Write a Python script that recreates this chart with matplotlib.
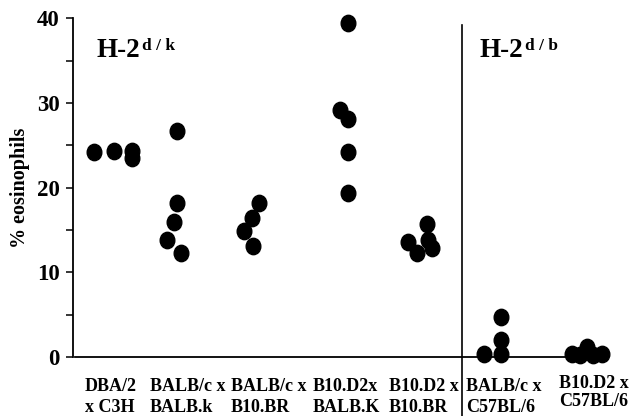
import numpy as np
import matplotlib
matplotlib.use('Agg')
import matplotlib.pyplot as plt
from matplotlib.path import Path

# group names (two-line labels under the axis)
groups = ['DBA/2\nx C3H', 'BALB/c x\nBALB.k', 'BALB/c x\nB10.BR',
          'B10.D2x\nBALB.K', 'B10.D2 x\nB10.BR', 'BALB/c x\nC57BL/6',
          'B10.D2 x\nC57BL/6']

# % eosinophils for each mouse, per group
dba_c3h = [24.2, 24.4, 24.4, 23.5]
balbc_balbk = [26.7, 18.2, 15.9, 13.8, 12.3]
balbc_b10br = [18.2, 16.4, 14.9, 13.1]
b10d2_balbk = [39.5, 29.2, 28.1, 24.2, 19.4]
b10d2_b10br = [15.7, 13.6, 12.3, 13.8, 12.9]
balbc_c57 = [4.7, 2.0, 0.35, 0.4]
b10d2_c57 = [0.4, 1.2, 0.4, 0.2, 0.2]
values = [dba_c3h, balbc_balbk, balbc_b10br, b10d2_balbk, b10d2_b10br, balbc_c57, b10d2_c57]

# horizontal scatter of the dots inside each group (as drawn in the figure)
jitter = [[-19, 1, 19, 19],
          [1, 1, -2, -9, 5],
          [7, 0, -8, 1],
          [1, -7, 1, 1, 1],
          [6, -13, -4, 7, 11],
          [6, 6, 6, -11],
          [-15, 0, 15, -7, 6]]

# layout (x in pixel-like units)
group_x = [113, 176, 252, 347, 421, 495, 587]
label_x = [85, 150, 231, 313, 389, 466, 559]
label_y = [-2.5, -2.5, -2.5, -2.5, -2.5, -2.5, -2.1]
label_sp = [1.32, 1.32, 1.32, 1.32, 1.32, 1.32, 1.1]
divider_x = 462

plt.rcParams['font.family'] = ['Liberation Serif', 'DejaVu Serif']
plt.rcParams['font.weight'] = 'bold'

fig = plt.figure(figsize=(6.29, 4.16), dpi=100)
ax = fig.add_axes([73 / 629, 59 / 416, 1 - 73 / 629, 338.5 / 416])

# slightly tall ellipse marker
circ = Path.unit_circle()
dot = Path(circ.vertices * np.array([1.0, 1.12]), circ.codes)

for gx, offs, vals in zip(group_x, jitter, values):
    xs = [gx + o for o in offs]
    ax.plot(xs, vals, linestyle='none', marker=dot, markersize=11.8,
            color='black', clip_on=False, zorder=3)

ax.set_xlim(73, 629)
ax.set_ylim(0, 40)

for s in ['top', 'right']:
    ax.spines[s].set_visible(False)
ax.spines['bottom'].set_bounds(75, 605)
ax.spines['bottom'].set_linewidth(1.3)
ax.spines['left'].set_linewidth(1.3)

ax.set_xticks([])
ax.set_yticks([0, 10, 20, 30, 40])
ax.set_yticks([5, 15, 25, 35], minor=True)
ax.tick_params(axis='y', which='both', length=5, width=1.1, direction='out')
ax.tick_params(axis='y', which='major', labelsize=16.5, pad=4.5)
for t in ax.get_yticklabels():
    t.set_fontweight('bold')

ax.set_ylabel('% eosinophils', fontsize=14.5, fontweight='bold', labelpad=5)

# divider between haplotype panels
ax.plot([divider_x, divider_x], [39.2, -7.0], color='black', linewidth=1.2,
        clip_on=False)

for lx, ly, sp, name in zip(label_x, label_y, label_sp, groups):
    ax.text(lx, ly, name, ha='left', va='top', fontsize=13,
            fontweight='bold', linespacing=sp, clip_on=False)

for hx, sup in [(97, 'd / k'), (480, 'd / b')]:
    h = ax.text(hx, 35.4, 'H-2', fontsize=19.5, fontweight='bold',
                ha='left', va='baseline')
    ax.annotate(sup, xy=(1.0, 1.0), xycoords=h, xytext=(1, 0),
                textcoords='offset points', ha='left', va='top',
                fontsize=12.5, fontweight='bold')

fig.savefig('out.png', dpi=100)
